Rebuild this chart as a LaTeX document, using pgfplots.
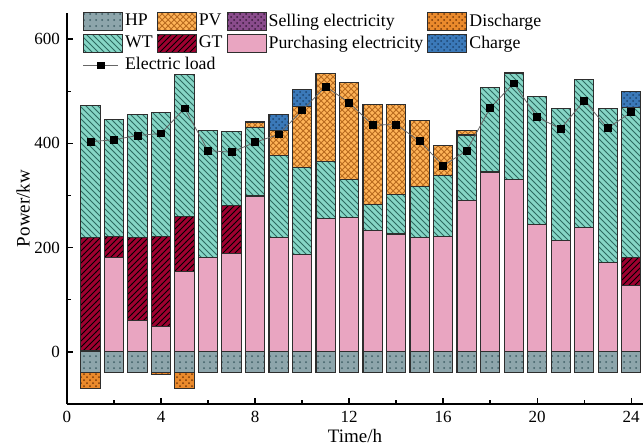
\documentclass[border=0pt]{standalone}
\usepackage{pgfplots}
\pgfplotsset{compat=1.18}
\usepackage{pgfplotstable}
\usetikzlibrary{patterns}
\usepackage{fontspec}
\setmainfont{Liberation Serif}

\definecolor{hpc}{HTML}{8DA5AB}
\definecolor{hpp}{HTML}{3F5F66}
\definecolor{wtc}{HTML}{86D6C6}
\definecolor{wtp}{HTML}{2E6A62}
\definecolor{gtc}{HTML}{9E0030}
\definecolor{pvc}{HTML}{FFB458}
\definecolor{pvp}{HTML}{B86A1E}
\definecolor{sec}{HTML}{8A4C8C}
\definecolor{sep}{HTML}{3A1A3C}
\definecolor{puc}{HTML}{E9A5C1}
\definecolor{dic}{HTML}{EA8A2C}
\definecolor{dip}{HTML}{7A3A08}
\definecolor{chc}{HTML}{3B79B9}
\definecolor{chp}{HTML}{1C4470}
\definecolor{edge}{HTML}{2E2E2E}

\pgfplotstableread{
h HP Dis Pur GT WT PV Ch Load
1 -40 -30 2 218 253 0 0 403
2 -40 0 181 40 224 0 0 407
3 -40 0 60 160 235 0 0 415
4 -40 -3 48 173 239 0 0 419
5 -40 -30 155 104 273 0 0 467
6 -40 0 181 0 243 0 0 386
7 -40 0 189 91 142 0 0 383
8 -40 0 299 0 132 10 0 402
9 -40 0 220 0 156 49 31 417
10 -40 0 186 0 167 118 32 463
11 -40 0 255 0 111 168 0 509
12 -40 0 257 0 73 187 0 478
13 -40 0 232 0 50 193 0 435
14 -40 0 226 0 76 173 0 436
15 -40 0 219 0 99 125 0 404
16 -40 0 221 0 118 57 0 357
17 -40 0 290 0 126 9 0 386
18 -40 0 345 0 162 0 0 468
19 -40 0 330 0 205 0 0 515
20 -40 0 245 0 245 0 0 450
21 -40 0 214 0 253 0 0 428
22 -40 0 239 0 283 0 0 482
23 -40 0 171 0 296 0 0 429
24 -40 0 127 54 287 0 31 460
}\datatable

\pgfplotsset{
  common/.style={scale only axis, width=288pt, height=195.5pt,
    xmin=0, xmax=24.5, ymin=-100, ymax=650,
    at={(0pt,0pt)}, anchor=south west, bar width=0.82},
  barleg/.style={legend image code/.code={\draw[##1] (0pt,-4.5pt) rectangle (19.5pt,4.5pt);}},
  bedge/.style={draw=edge, line width=0.55pt},
  hps/.style={bedge, fill=hpc, postaction={pattern=dots, pattern color=hpp}},
  wts/.style={bedge, fill=wtc, postaction={pattern=north west lines, pattern color=wtp}},
  gts/.style={bedge, fill=gtc, postaction={pattern=north east lines, pattern color=black}},
  pvs/.style={bedge, fill=pvc, postaction={pattern=crosshatch, pattern color=pvp}},
  ses/.style={bedge, fill=sec, postaction={pattern=crosshatch dots, pattern color=sep}},
  pus/.style={bedge, fill=puc},
  dis/.style={bedge, fill=dic, postaction={pattern=crosshatch dots, pattern color=dip}},
  chs/.style={bedge, fill=chc, postaction={pattern=crosshatch dots, pattern color=chp}},
}

\begin{document}
\begin{tikzpicture}
\useasboundingbox (-33.5pt,-21pt) rectangle (288pt,202pt);
% negative stack + axes
\begin{axis}[common, ybar stacked,
  axis x line*=bottom, axis y line*=left,
  axis line style={line width=0.8pt},
  xtick={0,4,...,24}, minor x tick num=1,
  ytick={0,200,400,600}, minor y tick num=1,
  tick align=inside, major tick length=3pt, minor tick length=1.8pt,
  tick style={line width=0.7pt, black},
  /pgf/number format/assume math mode=true,
  tick label style={font=\fontsize{8.5}{10}\selectfont},
  label style={font=\fontsize{9.5}{11}\selectfont},
  xlabel={Time/h}, ylabel={Power/kw},
  xlabel style={at={(axis description cs:0.5,0)}, anchor=north, yshift=-9pt},
  ylabel style={at={(axis description cs:0,0.5)}, anchor=south, yshift=15pt},
]
\addplot[hps] table[x=h, y=HP] {\datatable};
\addplot[dis] table[x=h, y=Dis] {\datatable};
\end{axis}
% positive stack
\begin{axis}[common, ybar stacked, hide axis]
\addplot[pus] table[x=h, y=Pur] {\datatable};
\addplot[gts] table[x=h, y=GT] {\datatable};
\addplot[wts] table[x=h, y=WT] {\datatable};
\addplot[pvs] table[x=h, y=PV] {\datatable};
\addplot[chs] table[x=h, y=Ch] {\datatable};
\end{axis}
% load line + legend
\begin{axis}[common, hide axis,
  legend columns=4, legend cell align=left,
  legend style={draw=none, fill=none, at={(0.027,1.004)}, anchor=north west,
    font=\fontsize{8.9}{10}\selectfont, inner sep=0pt, row sep=1.5pt,
    nodes={inner xsep=1pt, inner ysep=0.8pt},
    /tikz/every even column/.append style={column sep=1pt}},
]
\addlegendimage{barleg, hps}
\addlegendimage{barleg, pvs}
\addlegendimage{barleg, ses}
\addlegendimage{barleg, dis}
\addlegendimage{barleg, wts}
\addlegendimage{barleg, gts}
\addlegendimage{barleg, pus}
\addlegendimage{barleg, chs}
\addplot[color=black!60, line width=0.4pt, mark=square*, mark size=1.7pt,
  mark options={fill=black, draw=black}] table[x=h, y=Load] {\datatable};
\legend{HP, PV, Selling electricity, Discharge, WT, GT, Purchasing electricity, Charge, \makebox[0pt][l]{Electric load}}
\end{axis}
\end{tikzpicture}
\end{document}
